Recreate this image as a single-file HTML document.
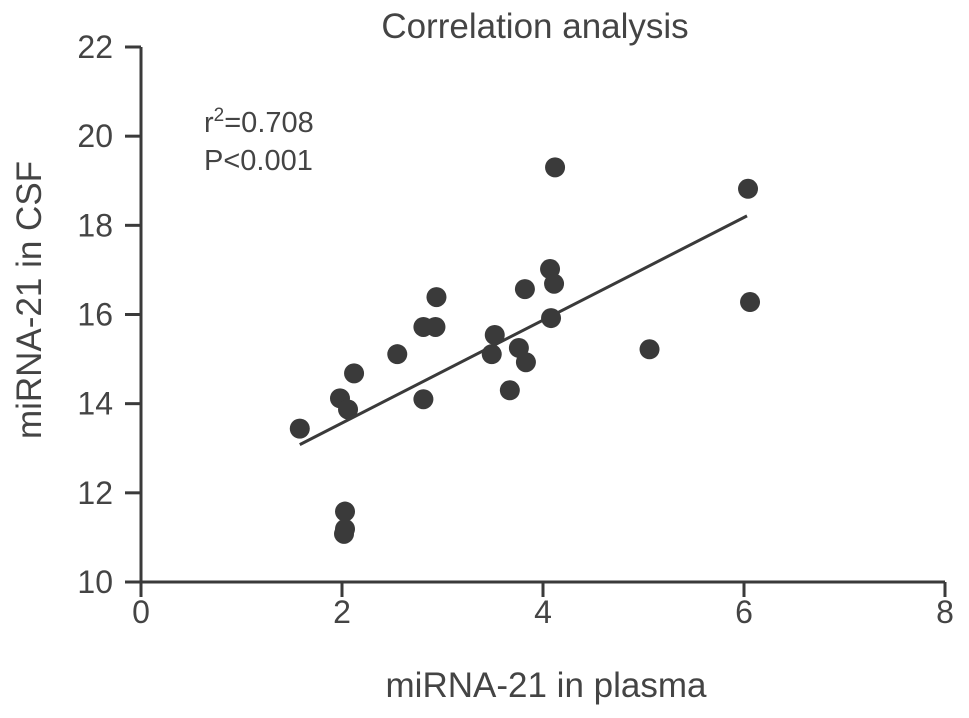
<!DOCTYPE html>
<html><head><meta charset="utf-8"><style>
body{margin:0;background:#fff}
svg text{font-family:"Liberation Sans",sans-serif;fill:#444}
</style></head><body>
<svg id="chart" width="969" height="713" viewBox="0 0 969 713" xmlns="http://www.w3.org/2000/svg">
<text x="535" y="38" font-size="35" text-anchor="middle">Correlation analysis</text>
<text x="546" y="697" font-size="35" text-anchor="middle">miRNA-21 in plasma</text>
<text transform="translate(41,300) rotate(-90)" font-size="35" text-anchor="middle">miRNA-21 in CSF</text>
<text x="204" y="132" font-size="29">r<tspan font-size="19" dy="-11">2</tspan><tspan dy="11">=0.708</tspan></text>
<text x="204" y="170" font-size="29">P&lt;0.001</text>
<g id="axes"></g><g id="fit"></g><g id="points"></g>
</svg>
<script>
const xTicks=[0,2,4,6,8];
const yTicks=[10,12,14,16,18,20,22];
const plasma=[1.58,1.98,2.06,2.12,2.03,2.03,2.02,2.55,2.81,2.93,2.94,2.81,3.52,3.49,3.67,3.76,3.83,3.82,4.07,4.11,4.08,4.12,6.04,6.06,5.06];
const csf=[13.44,14.12,13.87,14.68,11.58,11.19,11.08,15.11,15.72,15.72,16.39,14.10,15.54,15.11,14.30,15.25,14.93,16.57,17.02,16.69,15.92,19.30,18.82,16.28,15.22];
const fitSlope=[1.153];
const fitIntercept=[11.26];
const NS="http://www.w3.org/2000/svg";
const X=v=>141+(v-0)*(945-141)/8;
const Y=v=>582-(v-10)*(582-47)/12;
function mk(t,a,p){const e=document.createElementNS(NS,t);for(const k in a)e.setAttribute(k,a[k]);p.appendChild(e);return e;}
const ax=document.getElementById('axes');
let l=mk('line',{x1:X(0),y1:Y(22),x2:X(0),y2:597,stroke:'#3a3a3a','stroke-width':3},ax);


l=mk('line',{x1:126,y1:Y(10),x2:X(8),y2:Y(10),stroke:'#3a3a3a','stroke-width':3},ax);


xTicks.forEach(t=>{
 const tk=mk('line',{x1:X(t),y1:Y(10),x2:X(t),y2:597,stroke:'#3a3a3a','stroke-width':3},ax);
 
 
 const tx=mk('text',{x:X(t),y:623,'font-size':32,'text-anchor':'middle'},ax);tx.textContent=t;
 
 
});
yTicks.forEach(t=>{
 const tk=mk('line',{x1:125,y1:Y(t),x2:X(0),y2:Y(t),stroke:'#3a3a3a','stroke-width':3},ax);
 
 
 const tx=mk('text',{x:113,y:Y(t)+11,'font-size':32,'text-anchor':'end'},ax);tx.textContent=t;
 
 
});
const xmin=Math.min(...plasma),xmax=Math.max(...plasma)-0.03;
const fl=mk('line',{x1:X(xmin),y1:Y(fitIntercept[0]+fitSlope[0]*xmin),x2:X(xmax),y2:Y(fitIntercept[0]+fitSlope[0]*xmax),stroke:'#3a3a3a','stroke-width':3},document.getElementById('fit'));


const pg=document.getElementById('points');
plasma.forEach((v,i)=>{
 const c=mk('circle',{cx:X(v),cy:Y(csf[i]),r:10,fill:'#3a3a3a'},pg);
 
 
});
</script>
</body></html>
